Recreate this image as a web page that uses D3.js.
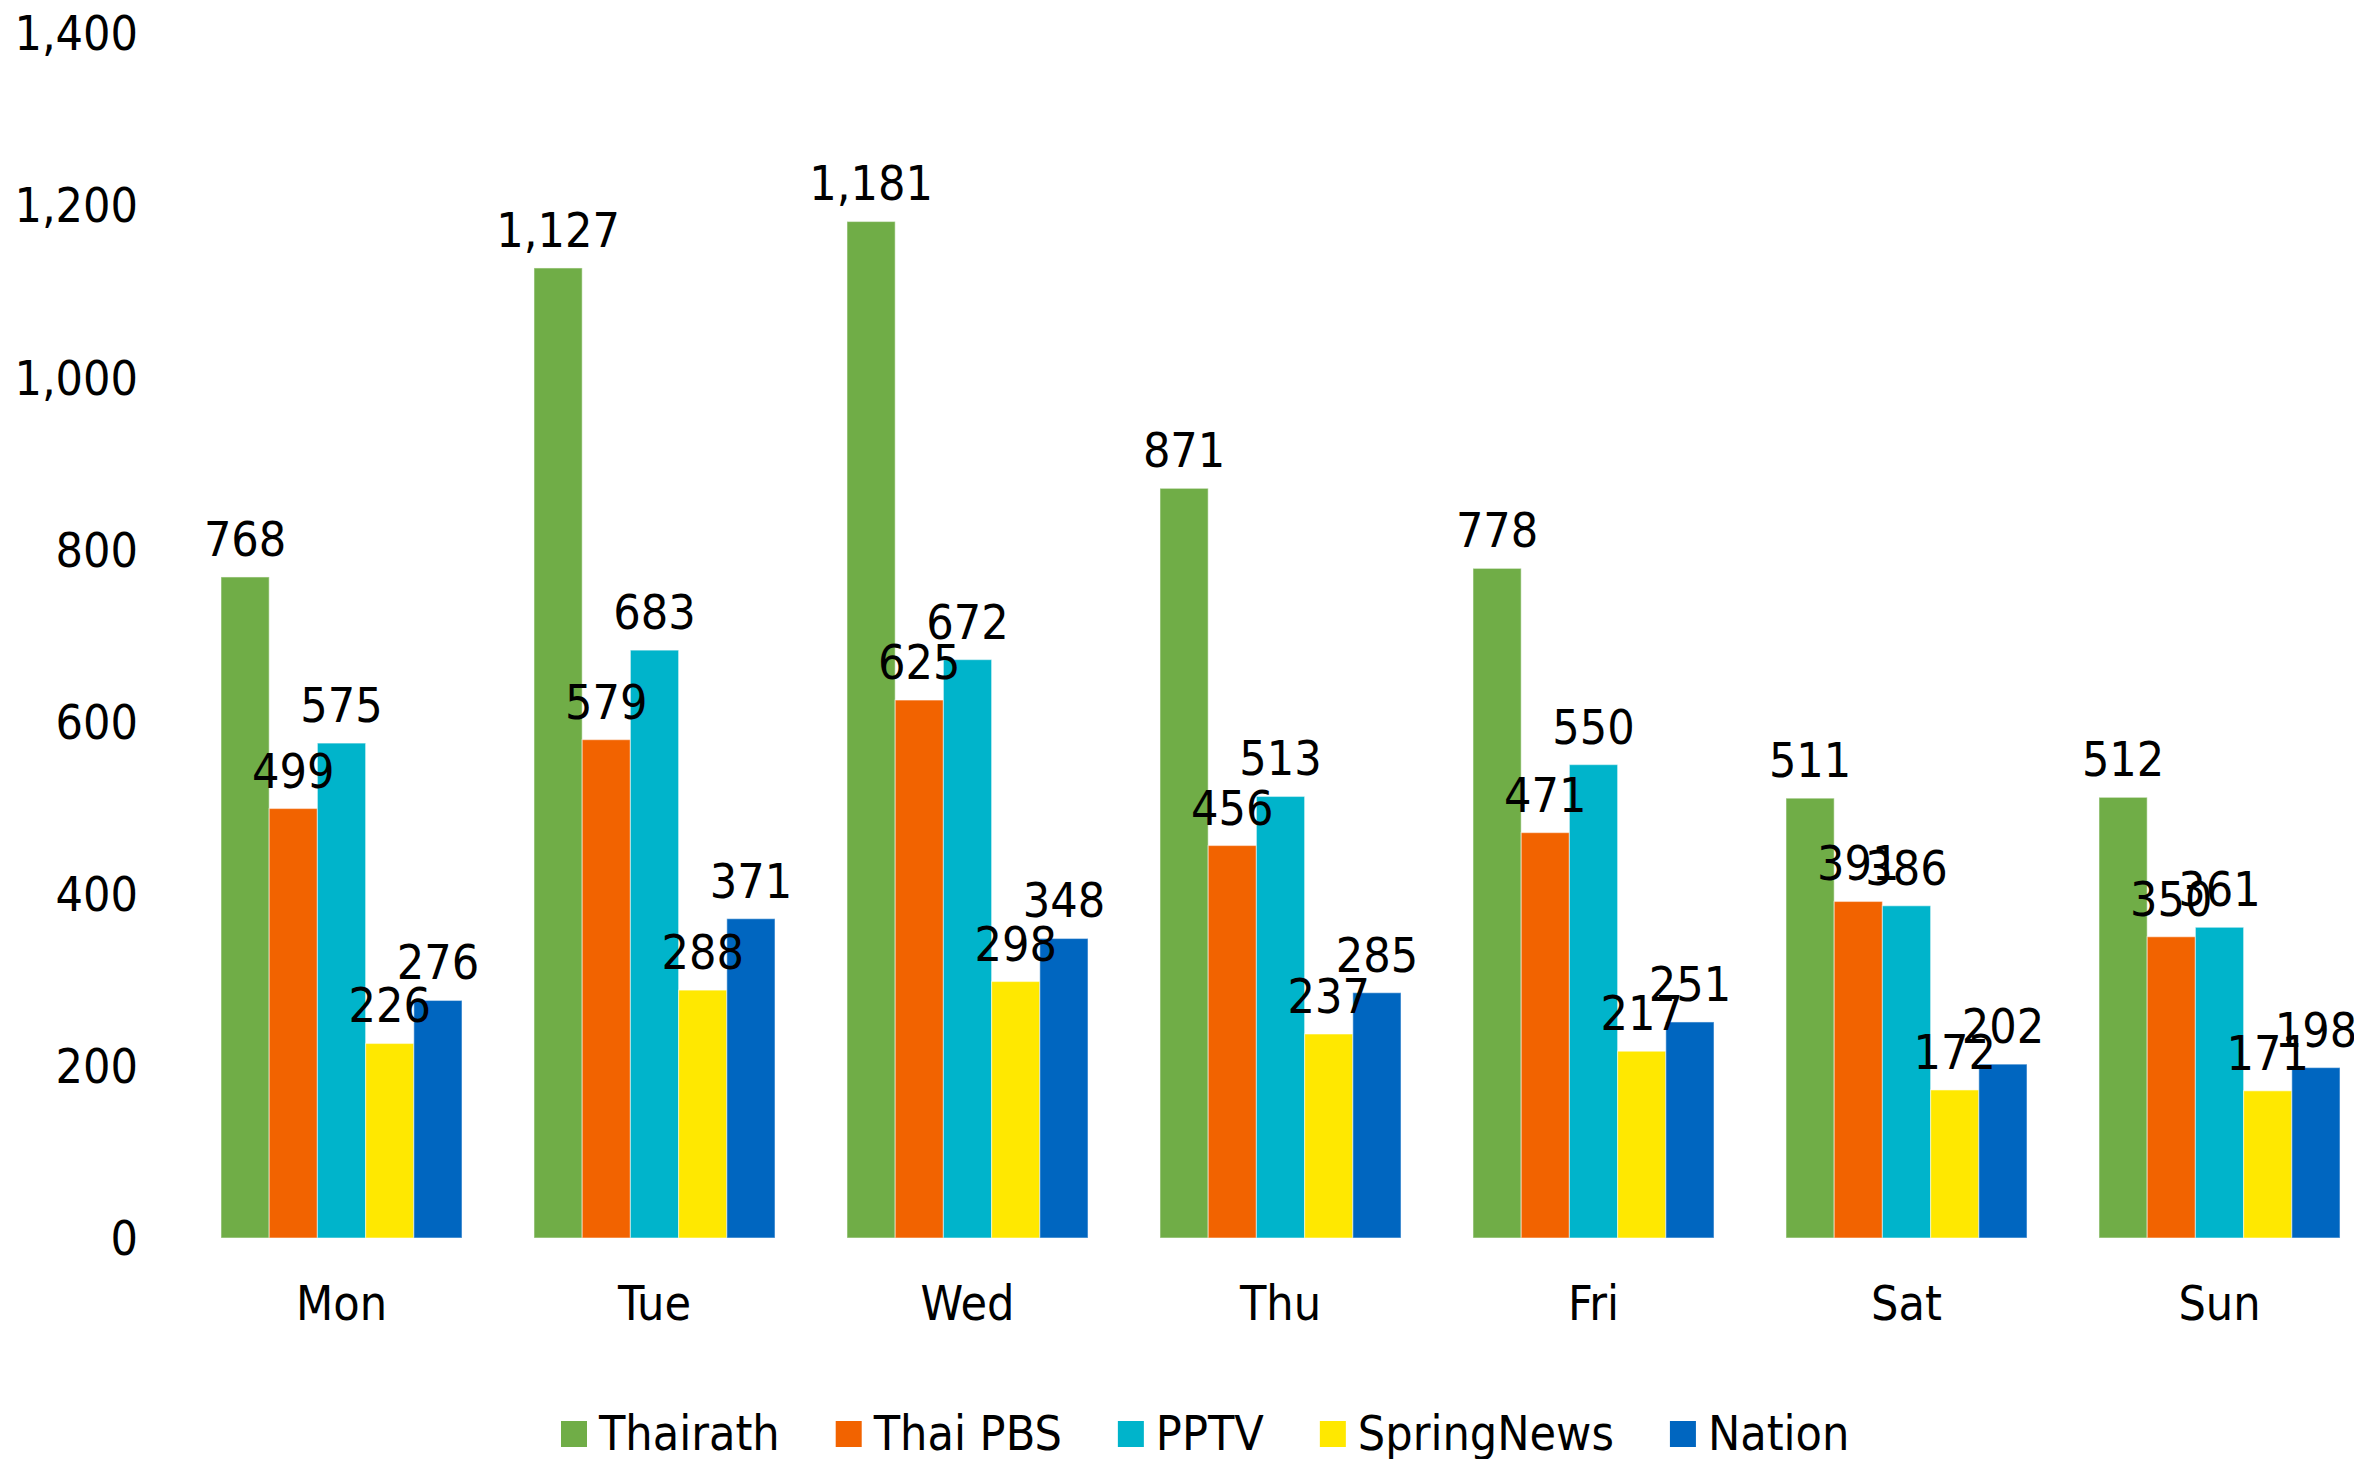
<!DOCTYPE html>
<html>
<head>
<meta charset="utf-8">
<script src="https://cdn.jsdelivr.net/npm/d3@7"></script>
<style>
  html, body { margin: 0; padding: 0; background: #ffffff; }
  svg { display: block; }
  text { font-family: "DejaVu Sans Condensed", "DejaVu Sans", sans-serif; font-stretch: condensed; fill: #000; }
</style>
</head>
<body>
<script>
const days = ["Mon", "Tue", "Wed", "Thu", "Fri", "Sat", "Sun"];
const seriesNames = ["Thairath", "Thai PBS", "PPTV", "SpringNews", "Nation"];
const thairath   = [768, 1127, 1181, 871, 778, 511, 512];
const thaiPBS    = [499, 579, 625, 456, 471, 391, 350];
const pptv       = [575, 683, 672, 513, 550, 386, 361];
const springNews = [226, 288, 298, 237, 217, 172, 171];
const nation     = [276, 371, 348, 285, 251, 202, 198];
const yTicks = [0, 200, 400, 600, 800, 1000, 1200, 1400];
const colors = ["#70AD47", "#F26300", "#00B4CB", "#FFE800", "#0066C0"];

const seriesValues = [thairath, thaiPBS, pptv, springNews, nation];

const W = 2354, H = 1459;
const svg = d3.select("body").append("svg").attr("width", W).attr("height", H);

const y = d3.scaleLinear().domain([0, 1400]).range([1238, 33]);
const x0 = d3.scaleBand().domain(days).range([185, 2376]).paddingInner(0.23).paddingOuter(0.115);
const x1 = d3.scaleBand().domain(seriesNames).range([0, x0.bandwidth()]).padding(0);

const fs = 48;

// Y axis labels
const yAxis = d3.axisLeft(y).tickValues(yTicks).tickFormat(d3.format(",")).tickSize(0).tickPadding(0);
const gy = svg.append("g").attr("transform", "translate(138,0)").call(yAxis);
gy.select(".domain").remove();
gy.selectAll("text").attr("font-size", fs).attr("font-family", null).attr("dy", "0.35em");

// X axis labels
const xAxis = d3.axisBottom(x0).tickSize(0).tickPadding(0);
const gx = svg.append("g").attr("transform", "translate(0,1320)").call(xAxis);
gx.select(".domain").remove();
gx.selectAll("text").attr("font-size", fs).attr("font-family", null).attr("dy", "0");

// Bars
const data = [];
seriesNames.forEach((s, si) => {
  days.forEach((d, di) => data.push({ series: s, si, day: d, value: seriesValues[si][di] }));
});

const groups = svg.append("g");
groups.selectAll("rect").data(data).enter().append("rect")
  .attr("x", d => x0(d.day) + x1(d.series))
  .attr("y", d => y(d.value))
  .attr("width", x1.bandwidth())
  .attr("height", d => y(0) - y(d.value))
  .attr("fill", d => colors[d.si])
  .attr("stroke", "rgba(255,255,255,0.45)")
  .attr("stroke-width", 1.2);

// Value labels
svg.append("g").selectAll("text").data(data).enter().append("text")
  .attr("x", d => x0(d.day) + x1(d.series) + x1.bandwidth() / 2)
  .attr("y", d => y(d.value) - 21)
  .attr("text-anchor", "middle")
  .attr("font-size", fs)
  .text(d => d3.format(",")(d.value));

// Legend
const legend = svg.append("g");
let lx = 561;
seriesNames.forEach((s, si) => {
  legend.append("rect").attr("x", lx).attr("y", 1421).attr("width", 26).attr("height", 26).attr("fill", colors[si]);
  const t = legend.append("text").attr("x", lx + 38).attr("y", 1450).attr("font-size", fs).text(s);
  const w = t.node().getComputedTextLength();
  lx += 38 + w + 56;
});
</script>
</body>
</html>
